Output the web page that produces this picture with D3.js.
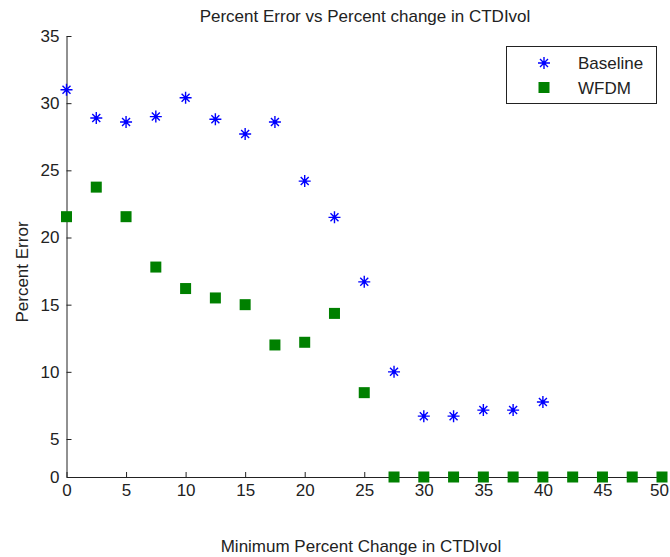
<!DOCTYPE html>
<html>
<head>
<meta charset="utf-8">
<script src="https://cdn.jsdelivr.net/npm/d3@7"></script>
<style>
  body { margin: 0; background: #fff; }
  svg { display: block; font-family: "Liberation Sans", Arial, sans-serif; }
  .axis path, .axis line { stroke: #222; }
  .axis text { fill: #222; font-size: 17px; }
</style>
</head>
<body>
<div class="container"></div>
<script>
// x positions (percent change)
const baselineX = [0, 2.5, 5, 7.5, 10, 12.5, 15, 17.5, 20, 22.5, 25, 27.5, 30, 32.5, 35, 37.5, 40];
const baselineY = [31.0, 28.9, 28.6, 29.0, 30.4, 28.8, 27.7, 28.6, 24.2, 21.5, 16.7, 10.0, 6.7, 6.7, 7.15, 7.15, 7.75];

const wfdmX = [0, 2.5, 5, 7.5, 10, 12.5, 15, 17.5, 20, 22.5, 25, 27.5, 30, 32.5, 35, 37.5, 40, 42.5, 45, 47.5, 50];
const wfdmY = [21.55, 23.75, 21.55, 17.8, 16.2, 15.5, 15.0, 12.0, 12.2, 14.35, 8.45, 0, 0, 0, 0, 0, 0, 0, 0, 0, 0];

const xTicks = [0, 5, 10, 15, 20, 25, 30, 35, 40, 45, 50];
const yTicks = [0, 5, 10, 15, 20, 25, 30, 35];

const width = 670;
const height = 557;

const svg = d3.select(".container")
    .append("svg")
    .attr("width", width)
    .attr("height", height);

const x = d3.scaleLinear().domain([0, 50]).range([66.5, 662]);
// the reference's bottom band (0-5) is squeezed, so the scale is piecewise
const y = d3.scaleLinear().domain([0, 5, 35]).range([477, 439, 36]);

const xAxis = svg.append("g")
    .attr("class", "axis")
    .attr("transform", `translate(0, ${y(0)})`)
    .call(d3.axisBottom(x).tickValues(xTicks).tickSize(-5).tickSizeOuter(0).tickPadding(7).tickFormat(d3.format("d")));

// keep the last label inside the window
xAxis.selectAll(".tick text").filter((d) => d === 50).attr("dx", -3);

svg.append("g")
    .attr("class", "axis")
    .attr("transform", `translate(${x(0)}, 0)`)
    .call(d3.axisLeft(y).tickValues(yTicks).tickSize(-5).tickSizeOuter(0).tickPadding(7).tickFormat(d3.format("d")));

// title and labels
svg.append("text")
    .attr("x", 365)
    .attr("y", 22)
    .attr("text-anchor", "middle")
    .attr("font-size", "17px")
    .attr("fill", "#222")
    .text("Percent Error vs Percent change in CTDIvol");

svg.append("text")
    .attr("x", 361)
    .attr("y", 552)
    .attr("text-anchor", "middle")
    .attr("font-size", "17px")
    .attr("fill", "#222")
    .text("Minimum Percent Change in CTDIvol");

svg.append("text")
    .attr("transform", "translate(28, 272) rotate(-90)")
    .attr("text-anchor", "middle")
    .attr("font-size", "17px")
    .attr("fill", "#222")
    .text("Percent Error");

const blue = "#0000ff";
const green = "#008000";

const drawStar = (g, cx, cy) => {
    const a = 6, b = 4;
    const p = `M${cx - a},${cy}H${cx + a}M${cx},${cy - a}V${cy + a}` +
        `M${cx - b},${cy - b}L${cx + b},${cy + b}M${cx - b},${cy + b}L${cx + b},${cy - b}`;
    g.append("path").attr("d", p).attr("stroke", blue).attr("stroke-width", 1.4).attr("fill", "none");
    g.append("circle").attr("cx", cx).attr("cy", cy).attr("r", 1.8).attr("fill", blue);
};

const sq = 11;

const wfdm = d3.zip(wfdmX, wfdmY);
svg.append("g")
    .selectAll("rect")
    .data(wfdm)
    .enter()
    .append("rect")
    .attr("x", (d) => x(d[0]) - sq / 2)
    .attr("y", (d) => y(d[1]) - sq / 2)
    .attr("width", sq)
    .attr("height", sq)
    .attr("fill", green);

const stars = svg.append("g");
d3.zip(baselineX, baselineY).forEach((d) => drawStar(stars, x(d[0]), y(d[1])));

// legend
const legend = svg.append("g");
legend.append("rect")
    .attr("x", 506.5)
    .attr("y", 46.5)
    .attr("width", 150)
    .attr("height", 57)
    .attr("fill", "#fff")
    .attr("stroke", "#222");

drawStar(legend, 544, 63);
legend.append("rect")
    .attr("x", 544 - sq / 2)
    .attr("y", 87.5 - sq / 2)
    .attr("width", sq)
    .attr("height", sq)
    .attr("fill", green);

legend.append("text").attr("x", 578).attr("y", 69).attr("font-size", "17px").attr("fill", "#222").text("Baseline");
legend.append("text").attr("x", 578).attr("y", 94).attr("font-size", "17px").attr("fill", "#222").text("WFDM");
</script>
</body>
</html>
